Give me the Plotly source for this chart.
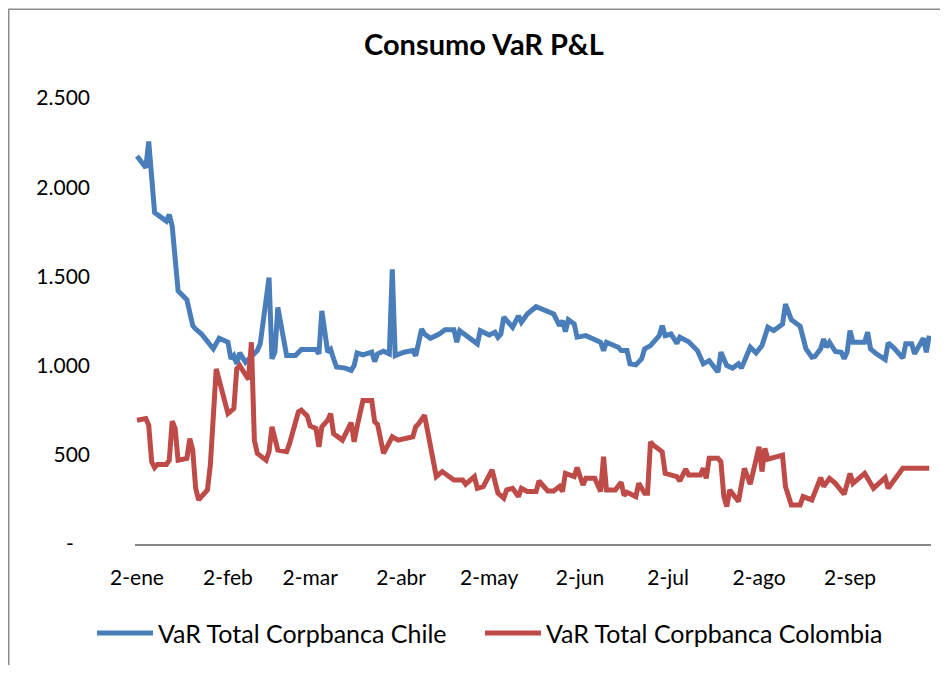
import pandas as pd
import plotly.graph_objects as go

inicio = pd.Timestamp("2013-01-02")

# dias desde 2-ene y VaR (miles)
dias_chile = [0, 3, 4, 5, 6, 10, 11, 12, 14, 17,
              19, 20, 22, 26, 28, 31, 32, 33, 34, 35,
              37, 41, 42, 45, 46, 47, 48, 51, 54, 56,
              61, 62, 63, 65, 66, 67, 68, 71, 73, 74,
              75, 77, 80, 81, 82, 84, 86, 87, 88, 91,
              94, 95, 97, 98, 100, 103, 105, 108, 109, 110,
              113, 116, 117, 120, 122, 123, 124, 125, 128, 130,
              131, 133, 136, 138, 142, 144, 145, 146, 147, 149,
              150, 153, 156, 158, 159, 160, 164, 165, 167, 168,
              170, 172, 173, 175, 178, 179, 180, 182, 184, 185,
              188, 191, 193, 195, 198, 199, 201, 203, 205, 206,
              209, 211, 213, 215, 217, 220, 221, 223, 226, 228,
              230, 231, 233, 234, 235, 236, 238, 240, 241, 242,
              243, 244, 248, 249, 250, 252, 255, 256, 258, 261,
              262, 264, 265, 268, 269, 270]
var_chile = [2175, 2109, 2256, 2042, 1858, 1810, 1847, 1782, 1419, 1369,
             1224, 1205, 1177, 1094, 1153, 1131, 1038, 1056, 1010, 1071,
             1019, 1084, 1122, 1494, 1038, 1075, 1326, 1056, 1056, 1090,
             1090, 1066, 1307, 1075, 1090, 1038, 992, 986, 973, 1000,
             1071, 1060, 1075, 1023, 1066, 1081, 1066, 1540, 1056, 1075,
             1084, 1056, 1205, 1177, 1153, 1177, 1201, 1201, 1131, 1196,
             1159, 1122, 1196, 1172, 1187, 1159, 1177, 1271, 1215, 1279,
             1243, 1289, 1330, 1317, 1289, 1224, 1252, 1190, 1257, 1233,
             1159, 1168, 1150, 1131, 1084, 1131, 1103, 1084, 1084, 1010,
             1004, 1038, 1094, 1112, 1168, 1224, 1168, 1177, 1125, 1159,
             1134, 1084, 1010, 1028, 964, 1075, 1000, 986, 1010, 986,
             1103, 1071, 1112, 1215, 1196, 1233, 1345, 1257, 1220, 1094,
             1047, 1051, 1094, 1149, 1103, 1131, 1079, 1075, 1038, 1075,
             1196, 1131, 1131, 1187, 1094, 1066, 1034, 1127, 1098, 1042,
             1122, 1122, 1066, 1153, 1075, 1168]

dias_colombia = [0, 3, 4, 5, 6, 7, 10, 11, 12, 13,
                 14, 17, 18, 19, 20, 21, 24, 25, 27, 31,
                 33, 34, 35, 38, 39, 40, 41, 44, 45, 46,
                 48, 51, 52, 55, 56, 58, 59, 61, 62, 63,
                 65, 66, 67, 70, 73, 74, 75, 77, 80, 81,
                 82, 84, 87, 89, 94, 95, 96, 98, 102, 104,
                 108, 111, 112, 115, 116, 118, 121, 123, 125, 126,
                 128, 130, 131, 133, 136, 137, 140, 142, 144, 145,
                 146, 149, 150, 152, 153, 156, 158, 159, 160, 163,
                 165, 166, 167, 170, 171, 173, 174, 175, 176, 179,
                 180, 184, 185, 187, 188, 192, 193, 194, 195, 198,
                 199, 200, 201, 202, 205, 207, 209, 212, 213, 214,
                 215, 220, 221, 223, 226, 227, 230, 233, 234, 236,
                 238, 241, 243, 244, 248, 251, 255, 256, 261, 270]
var_colombia = [694, 703, 666, 461, 428, 446, 446, 470, 688, 647,
                470, 480, 591, 526, 312, 247, 303, 442, 982, 731,
                759, 982, 1000, 922, 1131, 582, 508, 470, 517, 657,
                526, 517, 564, 740, 750, 718, 662, 647, 545, 657,
                694, 731, 619, 582, 681, 573, 657, 805, 805, 685,
                670, 508, 601, 582, 601, 657, 675, 722, 378, 406,
                359, 359, 335, 378, 312, 322, 415, 285, 257, 303,
                312, 266, 312, 294, 294, 353, 297, 297, 322, 294,
                396, 378, 428, 331, 368, 368, 294, 489, 303, 303,
                346, 272, 290, 266, 340, 285, 285, 573, 554, 517,
                396, 378, 353, 420, 387, 387, 424, 368, 480, 480,
                461, 266, 210, 303, 238, 424, 335, 545, 406, 536,
                475, 498, 322, 219, 219, 266, 247, 372, 322, 368,
                340, 279, 396, 340, 396, 312, 372, 312, 424, 424]

meses = ["2013-01-02", "2013-02-02", "2013-03-02", "2013-04-02", "2013-05-02",
         "2013-06-02", "2013-07-02", "2013-08-02", "2013-09-02"]
etiquetas_meses = ["2-ene", "2-feb", "2-mar", "2-abr", "2-may",
                   "2-jun", "2-jul", "2-ago", "2-sep"]
valores_y = [0, 500, 1000, 1500, 2000, 2500]
etiquetas_y = ["-\u00a0\u00a0\u00a0", "500", "1.000", "1.500", "2.000", "2.500"]

fechas_chile = inicio + pd.to_timedelta(dias_chile, unit="D")
fechas_colombia = inicio + pd.to_timedelta(dias_colombia, unit="D")

fig = go.Figure()
fig.add_scatter(x=fechas_chile, y=var_chile, mode="lines",
                name="VaR Total Corpbanca Chile",
                line=dict(color="#4A7EBB", width=5), legend="legend")
fig.add_scatter(x=fechas_colombia, y=var_colombia, mode="lines",
                name="VaR Total Corpbanca Colombia",
                line=dict(color="#BE4B48", width=5), legend="legend2")

fuente = "Lato, 'Open Sans', sans-serif"
leyenda = dict(orientation="h", xanchor="left", y=-0.2, yanchor="middle",
               font=dict(size=25), itemwidth=56, bgcolor="rgba(0,0,0,0)")

# la página html deja 8px de margen en el body: la figura se compensa
fig.update_layout(
    width=932, height=657,
    margin=dict(l=127, r=9, t=90, b=119),
    paper_bgcolor="white", plot_bgcolor="white",
    font=dict(family=fuente, size=21, color="black"),
    title=dict(text="<b>Consumo VaR P&L</b>", x=476 / 932, xanchor="center",
               y=1 - 37 / 657, yanchor="middle", font=dict(size=29)),
    showlegend=True,
    legend=dict(leyenda, x=-0.054),
    legend2=dict(leyenda, x=0.4334),
    # marco del gráfico
    shapes=[dict(type="rect", xref="paper", yref="paper",
                 x0=-0.1586, x1=1.2, y0=-0.4, y1=1.1992,
                 line=dict(color="#8C8C8C", width=1.5), layer="below")],
)

fig.update_xaxes(
    type="date",
    range=["2013-01-01 07:40", "2013-09-29 14:24"],
    tickvals=meses, ticktext=etiquetas_meses,
    showgrid=False, zeroline=False,
    showline=True, linecolor="#868686", linewidth=2,
    ticks="", ticklabelstandoff=14,
)
fig.update_yaxes(
    range=[0, 2500],
    tickvals=valores_y, ticktext=etiquetas_y,
    showgrid=False, zeroline=False, showline=False,
    ticks="", ticklabelstandoff=44,
)

fig.write_html("out.html")
